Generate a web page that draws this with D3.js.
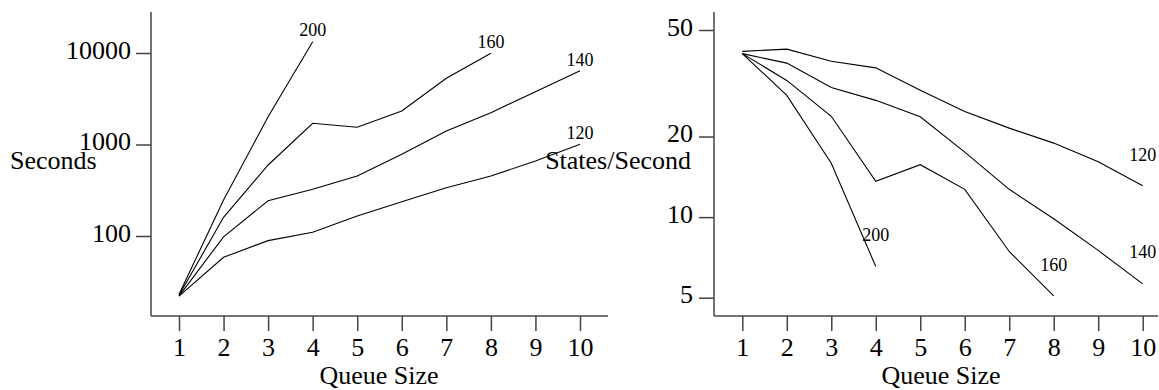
<!DOCTYPE html>
<html>
<head>
<meta charset="utf-8">
<script src="https://cdn.jsdelivr.net/npm/d3@7"></script>
<style>
  html, body { margin: 0; padding: 0; background: #fff; }
  svg { display: block; font-family: "Liberation Serif", "Times New Roman", serif; }
</style>
</head>
<body>
<svg id="chart" width="1159" height="390"></svg>
<script>
// Queue sizes on the x axis
const queueSizes = [1, 2, 3, 4, 5, 6, 7, 8, 9, 10];
const seriesNames = ["120", "140", "160", "200"];

// Run time in seconds, per series
const seconds120 = [22, 58.5, 89, 110, 165, 237, 337, 453, 660, 1005];
const seconds140 = [22, 98, 243, 324, 453, 781, 1405, 2227, 3776, 6412];
const seconds160 = [22.5, 160, 597, 1706, 1541, 2323, 5290, 9930];
const seconds200 = [23, 247, 2014, 13300];

// Throughput in states per second, per series
const rate120 = [41.6, 42.4, 38.2, 36.1, 29.8, 24.8, 21.5, 18.9, 16.1, 13.1];
const rate140 = [40.8, 37.6, 30.5, 27.3, 23.7, 17.5, 12.7, 9.86, 7.51, 5.63];
const rate160 = [40.8, 32.4, 23.8, 13.6, 15.7, 12.7, 7.44, 5.08];
const rate200 = [40.8, 28.5, 15.9, 6.54];

// Where each series name is written, in data units [queue size, value]
const secondsLabelAt = [[10, 1148], [10, 7210], [8, 11340], [4, 15340]];
const rateLabelAt = [[10, 16.15], [10, 7.01], [8, 6.27], [4, 8.11]];

// Tick values
const secondsTicks = [100, 1000, 10000];
const rateTicks = [5, 10, 20, 50];

const svg = d3.select("#chart");
const axisColor = "#444";
const bigFont = 26;

function panel(opts) {
  const g = svg.append("g");
  const x = d3.scaleLinear().domain([1, 10]).range(opts.xRange);
  const y = d3.scaleLog().domain(opts.yDomain).range(opts.yRange);

  // axis lines
  g.append("line")
    .attr("x1", opts.axisX).attr("x2", opts.axisX)
    .attr("y1", opts.axisTop).attr("y2", opts.axisBottom)
    .attr("stroke", axisColor).attr("stroke-width", 1.5);
  g.append("line")
    .attr("x1", opts.axisX).attr("x2", opts.axisRight)
    .attr("y1", opts.axisBottom).attr("y2", opts.axisBottom)
    .attr("stroke", axisColor).attr("stroke-width", 1.5);

  // x ticks
  const xAxis = d3.axisBottom(x).tickValues(queueSizes).tickFormat(d3.format("d"))
    .tickSize(15).tickPadding(7);
  const gx = g.append("g").attr("transform", `translate(0,${opts.axisBottom})`).call(xAxis);
  gx.select(".domain").remove();
  gx.selectAll(".tick line").attr("stroke", axisColor).attr("stroke-width", 1.5);
  gx.selectAll(".tick text").attr("font-size", bigFont).attr("fill", "#000")
    .attr("dy", "0.68em")
    .style("font-family", "Liberation Serif, Times New Roman, serif");

  // y ticks
  const yAxis = d3.axisLeft(y).tickValues(opts.yTicks).tickFormat(d3.format("d"))
    .tickSize(15).tickPadding(opts.yPad);
  const gy = g.append("g").attr("transform", `translate(${opts.axisX},0)`).call(yAxis);
  gy.select(".domain").remove();
  gy.selectAll(".tick line").attr("stroke", axisColor).attr("stroke-width", 1.5);
  gy.selectAll(".tick text").attr("font-size", bigFont).attr("fill", "#000").attr("dy", "0.2em")
    .style("font-family", "Liberation Serif, Times New Roman, serif");

  // series lines
  const line = d3.line().x((d, i) => x(queueSizes[i])).y(d => y(d));
  opts.series.forEach((vals, k) => {
    g.append("path").datum(vals)
      .attr("d", line)
      .attr("fill", "none").attr("stroke", "#000").attr("stroke-width", 1.1);
    const at = opts.labelAt[k];
    g.append("text")
      .attr("x", x(at[0])).attr("y", y(at[1]))
      .attr("text-anchor", "middle").attr("font-size", 18)
      .text(seriesNames[k]);
  });

  // axis titles
  g.append("text").attr("x", opts.yTitleX).attr("y", 169)
    .attr("text-anchor", opts.yTitleAnchor).attr("font-size", bigFont)
    .text(opts.yTitle);
  g.append("text").attr("x", opts.xTitleX).attr("y", 384)
    .attr("text-anchor", "middle").attr("font-size", bigFont)
    .text("Queue Size");
}

panel({
  xRange: [179, 580], axisX: 151, axisRight: 608, axisTop: 12, axisBottom: 316,
  yDomain: [100, 10000], yRange: [236, 53], yTicks: secondsTicks, yPad: 5,
  series: [seconds120, seconds140, seconds160, seconds200],
  labelAt: secondsLabelAt,
  yTitle: "Seconds", yTitleX: 10, yTitleAnchor: "start", xTitleX: 379
});

panel({
  xRange: [742.3, 1142.7], axisX: 714, axisRight: 1158, axisTop: 12, axisBottom: 316,
  yDomain: [5, 50], yRange: [297.7, 30], yTicks: rateTicks, yPad: 6,
  series: [rate120, rate140, rate160, rate200],
  labelAt: rateLabelAt,
  yTitle: "States/Second", yTitleX: 691, yTitleAnchor: "end", xTitleX: 941
});
</script>
</body>
</html>
